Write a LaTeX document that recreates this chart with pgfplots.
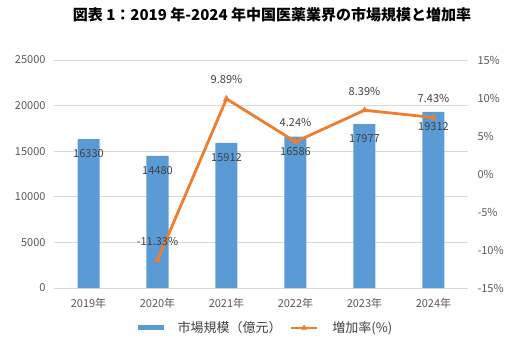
\documentclass[border=0pt]{standalone}
\usepackage{pgfplots}
\pgfplotsset{compat=1.18}
\usepackage{fontspec}
\setmainfont{Noto Sans CJK JP}
\definecolor{barblue}{HTML}{5B9BD5}
\definecolor{lineorange}{HTML}{ED7D31}
\definecolor{ticktext}{HTML}{595959}
\definecolor{labeltext}{HTML}{404040}
\definecolor{gridgray}{HTML}{D9D9D9}
\pgfplotsset{
  barlegend/.style={legend image code/.code={\fill[barblue] (0pt,-2.5pt) rectangle (26pt,2.5pt);}},
  linelegend/.style={legend image code/.code={\draw[##1, mark=none] (0pt,0pt) -- (26pt,0pt); \draw[##1] plot coordinates {(13pt,0pt)};}},
}
\begin{document}
\begin{tikzpicture}[x=1pt,y=1pt]
\path[use as bounding box] (0,0) rectangle (514,351);
\node[font=\fontsize{15}{18}\selectfont\bfseries] at (272,336) {図表 1：2019 年-2024 年中国医薬業界の市場規模と増加率};
\begin{axis}[
  at={(54pt,63pt)}, anchor=south west, width=414pt, height=228pt, scale only axis,
  xmin=-0.5, xmax=5.5, ymin=0, ymax=25000,
  xtick={0,...,5}, xticklabels={2019年,2020年,2021年,2022年,2023年,2024年},
  ytick={0,5000,...,25000}, scaled y ticks=false,
  axis line style={draw=none}, major tick length=0pt,
  ymajorgrids, grid style={gridgray, line width=0.8pt},
  /pgf/number format/1000 sep={}, /pgf/number format/assume math mode=true,
  tick label style={font=\fontsize{11}{13}\selectfont, text=ticktext},
  yticklabel style={xshift=-5pt},
  xticklabel style={yshift=-7pt},
  legend style={at={(0.512,-0.175)}, anchor=center, draw=none, fill=none,
    font=\fontsize{13}{15}\selectfont, text=labeltext, legend columns=2,
    /tikz/every odd column/.append style={column sep=12pt},
    /tikz/every even column/.append style={column sep=6pt}},
]
\addplot[ybar, bar width=22pt, fill=barblue, draw=none, barlegend,
  nodes near coords,
  every node near coord/.append style={anchor=center, yshift=-15pt, font=\fontsize{11}{13}\selectfont, text=labeltext}]
  coordinates {(0,16330) (1,14480) (2,15912) (3,16586) (4,17977) (5,19312)};
\addlegendentry{市場規模（億元）}
\addlegendimage{lineorange, line width=2.8pt, mark=triangle*, mark size=3pt,
  mark options={solid, line width=0.4pt, fill=lineorange}, linelegend}
\addlegendentry{増加率(\%)}
\end{axis}
\begin{axis}[
  at={(54pt,63pt)}, anchor=south west, width=414pt, height=228pt, scale only axis,
  xmin=-0.5, xmax=5.5, ymin=-15, ymax=15,
  axis y line*=right, axis x line=none,
  ytick={-15,-10,...,15},
  yticklabel={\pgfmathprintnumber{\tick}\%},
  axis line style={draw=none}, major tick length=0pt,
  /pgf/number format/assume math mode=true,
  tick label style={font=\fontsize{11}{13}\selectfont, text=ticktext},
  yticklabel style={xshift=6pt},
]
\addplot[lineorange, line width=2.8pt, mark=triangle*, mark size=3.5pt,
  mark options={solid, line width=0.4pt, fill=lineorange},
  nodes near coords={\pgfmathprintnumber[fixed,zerofill,precision=2]{\pgfplotspointmeta}\%},
  every node near coord/.append style={anchor=center, yshift=19pt, font=\fontsize{11}{13}\selectfont, text=labeltext}]
  coordinates {(1,-11.33) (2,9.89) (3,4.24) (4,8.39) (5,7.43)};
\end{axis}
\end{tikzpicture}
\end{document}
